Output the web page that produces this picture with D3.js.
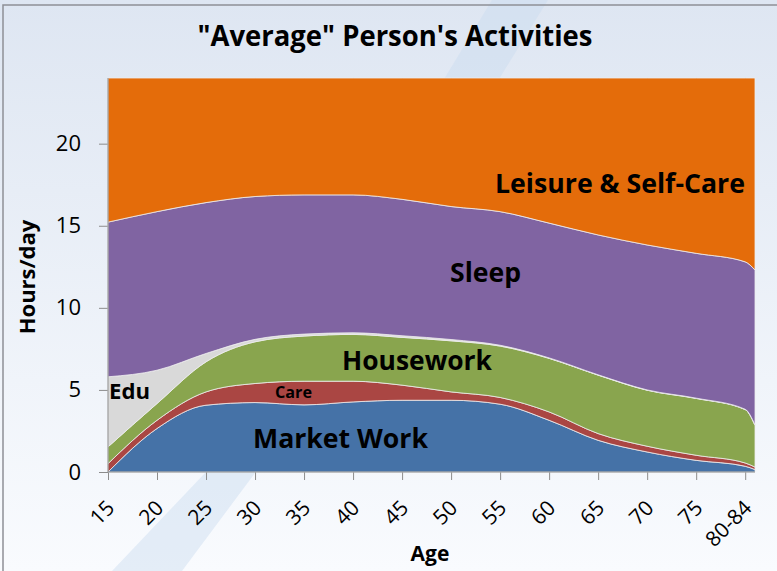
<!DOCTYPE html>
<html>
<head>
<meta charset="utf-8">
<script src="https://cdnjs.cloudflare.com/ajax/libs/d3/7.8.5/d3.min.js"></script>
<style>
  body { margin: 0; overflow: hidden; background: #ffffff; }
  text { font-family: "Open Sans", "Noto Sans", sans-serif; fill: #000; }
</style>
</head>
<body>
<script>
'use strict';

const ages = [15, 20, 25, 30, 35, 40, 45, 50, 55, 60, 65, 70, 75, 80, 81];
const tickAges = [15, 20, 25, 30, 35, 40, 45, 50, 55, 60, 65, 70, 75, 80];
const tickLabels = ["15", "20", "25", "30", "35", "40", "45", "50", "55", "60", "65", "70", "75", "80-84"];
const yTicks = [0, 5, 10, 15, 20];

// hours per day, one value per age
const marketWork = [0.00, 2.65, 4.07, 4.23, 4.09, 4.27, 4.37, 4.37, 4.13, 3.15, 1.93, 1.22, 0.71, 0.35, 0.15];
const care       = [0.51, 0.50, 0.81, 1.16, 1.44, 1.26, 0.92, 0.51, 0.41, 0.51, 0.41, 0.35, 0.31, 0.20, 0.15];
const housework  = [1.02, 1.02, 1.83, 2.54, 2.75, 2.85, 2.91, 3.11, 3.13, 3.26, 3.56, 3.41, 3.46, 3.25, 2.55];
const edu        = [4.27, 2.03, 0.51, 0.15, 0.12, 0.10, 0.10, 0.08, 0.05, 0.03, 0.02, 0.02, 0.02, 0.02, 0.02];
const sleep      = [9.42, 9.66, 9.19, 8.70, 8.48, 8.40, 8.31, 8.10, 8.14, 8.21, 8.52, 8.83, 8.82, 8.98, 9.43];
const leisure    = [8.78, 8.14, 7.59, 7.22, 7.12, 7.12, 7.39, 7.83, 8.14, 8.84, 9.56, 10.17, 10.68, 11.20, 11.70];

const activities = ["Market Work", "Care", "Housework", "Edu", "Sleep", "Leisure & Self-Care"];
const activityColors = ["#4572a7", "#aa4643", "#89a54e", "#d9d9d9", "#8064a2", "#e46c0a"];

(function() {

  let svgContainer = "";

  window.onload = function() {
    svgContainer = d3.select('body')
      .append('svg')
      .attr('width', 777)
      .attr('height', 571);

    drawBackground();
    let map = drawAxes();
    plotData(map);
    makeLabels();
  }

  // light blue slide background with the diagonal swoosh and frame lines
  function drawBackground() {
    let defs = svgContainer.append('defs');
    let grad = defs.append('linearGradient')
      .attr('id', 'bg')
      .attr('x1', 0).attr('y1', 0)
      .attr('x2', 0).attr('y2', 1);
    grad.append('stop').attr('offset', '0%').attr('stop-color', '#dee6f2');
    grad.append('stop').attr('offset', '100%').attr('stop-color', '#f9fbfe');

    svgContainer.append('rect')
      .attr('width', 777)
      .attr('height', 571)
      .attr('fill', 'url(#bg)');

    svgContainer.append('path')
      .attr('d', 'M492,0 L548,0 L255,473 L182,571 L112,571 L205,473 Z')
      .attr('fill', '#c9dcef')
      .attr('opacity', 0.45);

    svgContainer.append('path')
      .attr('d', 'M777,5 L3,5 L3,571')
      .attr('fill', 'none')
      .attr('stroke', '#8e9096')
      .attr('stroke-width', 1.5);
  }

  // draw the axes and ticks, return the scales
  function drawAxes() {
    let xScale = d3.scaleLinear()
      .domain([15, 81])
      .range([108, 755]);

    let yScale = d3.scaleLinear()
      .domain([0, 24])
      .range([472, 78]);

    let yAxis = d3.axisLeft(yScale)
      .tickValues(yTicks)
      .tickSizeInner(9)
      .tickSizeOuter(0)
      .tickPadding(18);
    let yg = svgContainer.append('g')
      .attr('transform', 'translate(108, 0)')
      .call(yAxis);
    yg.select('.domain').remove();
    yg.selectAll('line').attr('stroke', '#8c8c8c');
    yg.selectAll('text')
      .style('font-size', '22px')
      .style('font-family', '"Open Sans", sans-serif')
      .attr('fill', '#000');

    let xAxis = d3.axisBottom(xScale)
      .tickValues(tickAges)
      .tickSizeInner(8)
      .tickSizeOuter(0)
      .tickFormat((d, i) => tickLabels[i]);
    let xg = svgContainer.append('g')
      .attr('transform', 'translate(0, 472)')
      .call(xAxis);
    xg.select('.domain').remove();
    xg.selectAll('line').attr('stroke', '#8c8c8c');
    xg.selectAll('text')
      .style('font-size', '21px')
      .style('font-family', '"Open Sans", sans-serif')
      .attr('fill', '#000')
      .attr('y', 0)
      .attr('dy', '0.35em')
      .attr('text-anchor', 'end')
      .attr('transform', 'translate(2, 32) rotate(-45)');

    return { xScale: xScale, yScale: yScale };
  }

  // stacked, smoothed areas
  function plotData(map) {
    let series = [marketWork, care, housework, edu, sleep, leisure];
    let rows = ages.map((a, i) => {
      let row = { age: a };
      activities.forEach((k, j) => { row[k] = series[j][i]; });
      return row;
    });

    let stack = d3.stack().keys(activities);
    let layers = stack(rows);

    let area = d3.area()
      .x(d => map.xScale(d.data.age))
      .y0(d => map.yScale(d[0]))
      .y1(d => map.yScale(d[1]))
      .curve(d3.curveMonotoneX);

    svgContainer.append('g')
      .selectAll('path')
      .data(layers)
      .enter()
      .append('path')
      .attr('d', area)
      .attr('fill', (d, i) => activityColors[i])
      .attr('stroke', '#eeeeee')
      .attr('stroke-width', 0.8);

    // axis lines on top of the areas
    svgContainer.append('line')
      .attr('x1', 108).attr('x2', 108)
      .attr('y1', map.yScale(24)).attr('y2', map.yScale(0))
      .attr('stroke', '#8c8c8c');
    svgContainer.append('line')
      .attr('x1', 108).attr('x2', 755)
      .attr('y1', map.yScale(0)).attr('y2', map.yScale(0))
      .attr('stroke', '#8c8c8c');
  }

  // title, axis titles and band names
  function makeLabels() {
    svgContainer.append('text')
      .attr('x', 395)
      .attr('y', 46)
      .attr('text-anchor', 'middle')
      .style('font-size', '28px')
      .style('font-weight', 'bold')
      .attr('textLength', 395)
      .attr('lengthAdjust', 'spacingAndGlyphs')
      .text('"Average" Person\'s Activities');

    svgContainer.append('text')
      .attr('x', 430)
      .attr('y', 561)
      .attr('text-anchor', 'middle')
      .style('font-size', '21px')
      .style('font-weight', 'bold')
      .text('Age');

    svgContainer.append('text')
      .attr('transform', 'translate(35, 277)rotate(-90)')
      .attr('text-anchor', 'middle')
      .style('font-size', '22px')
      .style('font-weight', 'bold')
      .text('Hours/day');

    let bandLabels = [
      { t: 'Leisure & Self-Care', x: 495, y: 193, s: 26, w: 250 },
      { t: 'Sleep', x: 450, y: 282, s: 26, w: 71 },
      { t: 'Housework', x: 342, y: 370, s: 26, w: 150 },
      { t: 'Market Work', x: 253, y: 448, s: 26, w: 175 },
      { t: 'Care', x: 275, y: 398, s: 16, w: 37 },
      { t: 'Edu', x: 109, y: 399, s: 22, w: 41 }
    ];
    svgContainer.selectAll('.band')
      .data(bandLabels)
      .enter()
      .append('text')
      .attr('x', d => d.x)
      .attr('y', d => d.y)
      .style('font-size', d => d.s + 'px')
      .style('font-weight', 'bold')
      .attr('textLength', d => d.w)
      .attr('lengthAdjust', 'spacingAndGlyphs')
      .text(d => d.t);
  }

})();
</script>
</body>
</html>
